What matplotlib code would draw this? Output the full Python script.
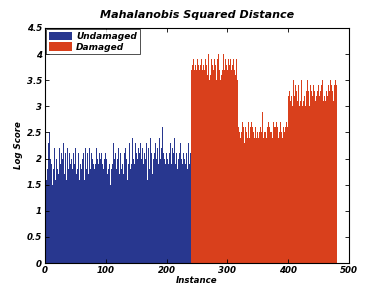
import numpy as np
import matplotlib
matplotlib.use("Agg")
import matplotlib.pyplot as plt

## Data (one value per instance)
undamaged = [
    1.9,2.1,1.6,2.0,1.8,2.3,2.0,2.5,1.7,2.0,1.9,2.1,1.5,2.0,1.8,2.2,1.9,1.6,2.1,2.0,
    1.8,2.1,1.7,2.0,2.2,1.9,1.6,2.1,2.0,1.8,2.3,1.9,1.7,2.1,2.0,1.6,1.9,2.2,1.8,2.0,
    2.1,1.7,1.9,2.0,2.3,1.8,1.6,2.1,1.9,2.0,2.2,1.7,2.0,1.8,1.9,2.1,1.6,2.0,1.9,2.2,
    1.8,2.0,1.7,2.1,1.9,1.6,2.2,2.0,1.8,1.9,2.1,1.7,2.0,2.2,1.8,1.9,2.1,1.6,2.0,1.9,
    2.1,1.8,2.0,1.9,2.2,1.7,2.0,2.6,1.9,2.1,1.8,2.0,1.7,2.1,1.9,2.2,1.8,2.0,1.6,2.1,
    1.9,2.0,1.7,2.2,1.8,2.1,1.9,1.5,2.0,1.8,2.1,1.9,2.3,1.7,2.0,1.9,2.1,1.8,1.6,2.0,
    2.2,1.9,1.7,2.0,2.1,1.8,2.3,1.9,2.0,1.7,2.1,1.9,2.2,1.8,2.0,1.6,2.1,1.9,2.0,2.3,
    1.8,2.1,1.9,2.4,1.7,2.0,2.2,1.9,2.3,1.8,2.1,1.6,2.0,2.2,1.9,2.1,1.8,2.3,2.0,1.9,
    2.2,2.4,1.9,2.1,1.7,2.0,2.3,1.9,1.6,2.1,2.2,1.8,2.0,2.4,1.9,2.1,1.7,2.2,2.0,1.8,
    2.1,2.3,1.9,2.0,1.7,2.2,1.9,2.1,2.4,1.8,2.0,2.2,1.9,2.6,2.1,1.8,2.0,2.3,1.9,2.1,
    1.7,2.0,2.2,1.9,2.1,1.8,2.3,2.0,1.9,2.2,1.7,2.1,2.0,2.4,1.9,2.5,2.1,1.8,2.2,2.0,
    1.9,2.1,2.3,1.8,2.0,2.2,1.9,2.1,1.7,2.0,2.3,1.9,2.1,2.2,1.8,2.0,2.3,1.9,2.2,2.1,
]
damaged = [
    # first damage state
    3.7,3.5,3.8,3.6,3.9,3.7,3.4,3.8,3.6,3.7,3.9,3.5,3.8,3.6,3.7,3.8,3.5,3.9,3.6,3.7,
    3.8,3.6,3.7,3.9,3.5,3.8,3.7,3.6,4.0,3.7,3.5,3.8,3.6,3.9,3.7,3.8,3.4,3.7,3.9,3.6,
    3.8,3.7,3.5,3.9,3.6,4.0,3.7,3.8,3.5,3.9,3.6,3.7,3.8,4.0,3.6,3.7,3.9,3.5,3.8,3.6,
    3.7,3.9,3.6,3.8,3.5,3.9,3.7,3.6,3.8,3.9,3.5,3.7,3.8,3.6,3.9,3.7,3.5,3.8,
    # second damage state
    2.6,2.5,2.8,2.4,2.6,2.5,2.7,2.4,2.6,2.5,2.3,2.6,3.0,2.5,2.4,2.6,2.7,2.5,2.4,2.6,
    2.5,2.7,2.4,2.6,2.5,2.8,2.4,2.5,2.6,2.4,2.7,2.5,2.6,2.4,2.5,2.7,2.6,2.4,2.5,2.9,
    2.6,2.4,2.5,2.7,2.5,2.6,2.4,2.6,2.5,2.7,2.4,2.6,2.5,2.8,2.5,2.6,2.4,2.7,2.5,2.6,
    2.4,2.6,2.7,2.5,2.6,2.4,2.8,2.5,2.6,2.7,2.5,2.6,2.4,2.7,2.6,2.5,2.8,2.6,2.5,2.7,2.6,2.7,
    # third damage state
    3.2,3.0,3.3,3.1,3.4,3.2,3.0,3.3,3.5,3.1,3.2,3.4,3.0,3.3,3.2,3.1,3.4,3.2,3.0,3.3,
    3.1,3.5,3.2,3.0,3.3,3.1,3.2,3.4,3.0,3.3,3.2,3.5,3.1,3.3,3.0,3.2,3.4,3.1,3.3,3.2,
    3.0,3.4,3.2,3.3,3.1,3.5,3.2,3.0,3.3,3.4,3.1,3.2,3.3,3.0,3.4,3.2,3.5,3.1,3.3,3.2,
    3.4,3.1,3.3,3.6,3.2,3.0,3.4,3.3,3.1,3.5,3.2,3.4,3.3,3.6,3.1,3.4,3.2,3.5,3.3,3.4,
]
xticks = [0, 100, 200, 300, 400, 500]
yticks = [0, 0.5, 1, 1.5, 2, 2.5, 3, 3.5, 4, 4.5]
ytick_labels = ["0", "0.5", "1", "1.5", "2", "2.5", "3", "3.5", "4", "4.5"]

blue = "#28378f"
red = "#d9401c"
font = {"family": "DejaVu Sans", "weight": "bold", "style": "italic"}

fig = plt.figure(figsize=(3.71, 2.94), dpi=100)
ax = fig.add_axes([0.121, 0.105, 0.820, 0.800])

x_und = np.arange(len(undamaged))
x_dam = np.arange(len(undamaged), len(undamaged) + len(damaged))
ax.bar(x_und, undamaged, width=1.0, align="edge", color=blue, linewidth=0, label="Undamaged")
ax.bar(x_dam, damaged, width=1.0, align="edge", color=red, linewidth=0, label="Damaged")

ax.set_xlim(0, 500)
ax.set_ylim(0, 4.5)
ax.set_xticks(xticks)
ax.set_xticklabels([str(t) for t in xticks], fontdict=dict(font, size=6.2))
ax.set_yticks(yticks)
ax.set_yticklabels(ytick_labels, fontdict=dict(font, size=6.2))
ax.tick_params(direction="in", top=True, right=True, length=3, width=0.6, pad=2)
for s in ax.spines.values():
    s.set_linewidth(0.8)

ax.set_title("Mahalanobis Squared Distance", fontdict=dict(font, size=8), pad=7)
ax.set_xlabel("Instance", fontdict=dict(font, size=6.2), labelpad=1)
ax.set_ylabel("Log Score", fontdict=dict(font, size=6.2), labelpad=3)

leg = ax.legend(loc="upper left", prop=dict(font, size=6.5), frameon=True, fancybox=False,
                edgecolor="black", borderpad=0.3, labelspacing=0.15, handlelength=2.6,
                handleheight=1.0, handletextpad=0.4, borderaxespad=0.15)
leg.get_frame().set_linewidth(0.6)

plt.savefig("out.png", dpi=100)
